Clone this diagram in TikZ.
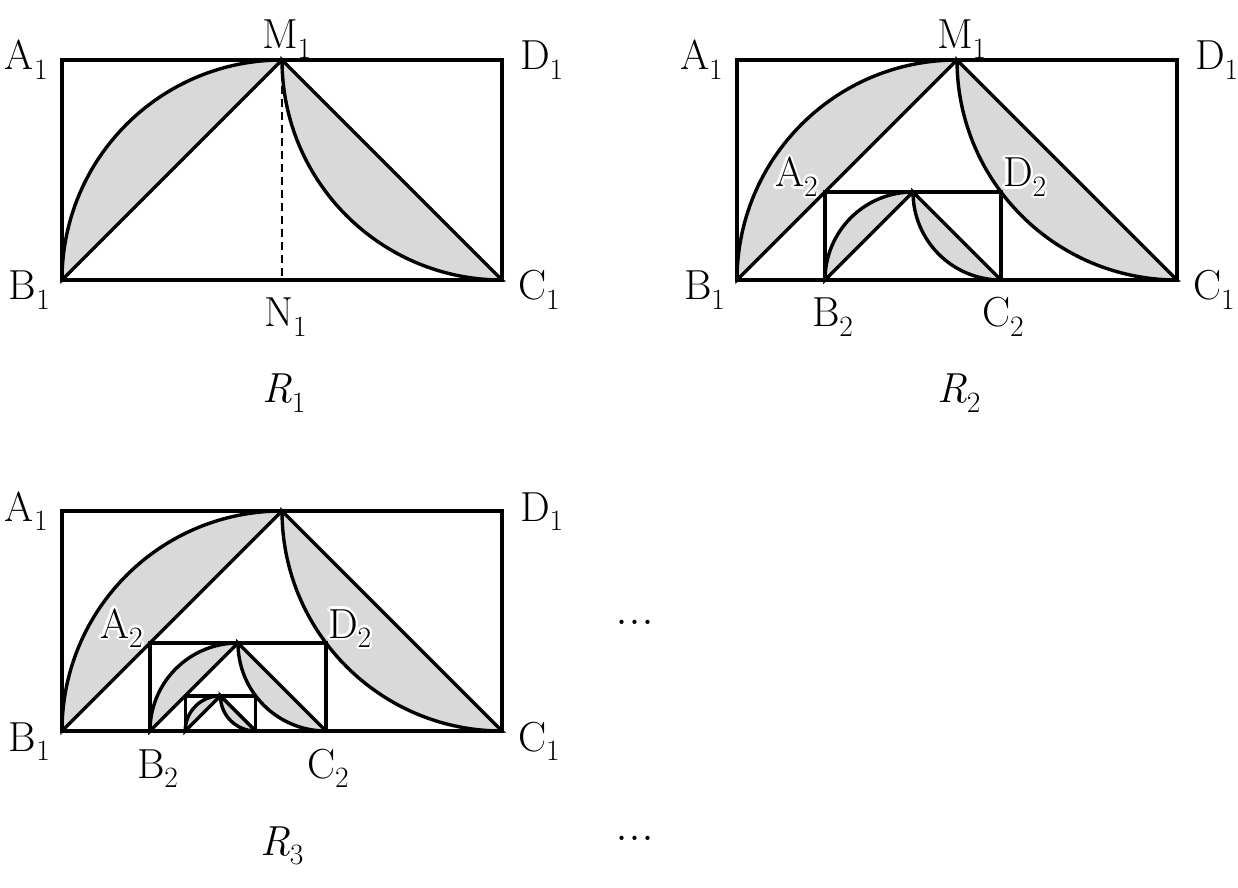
\documentclass[tikz,border=0pt]{standalone}
\usetikzlibrary{calc}
\newcommand\sub[1]{\raisebox{-0.22em}{\fontsize{29.5}{30}\selectfont #1}}
\newcommand\lbl[2]{#1\sub{#2}}
\newcommand\mydots{{\fontsize{52}{54}\selectfont .\kern0em.\kern0em.}}
\tikzset{
  edge/.style={line width=3.4pt, line join=miter},
  lens/.style={edge, fill=gray!30},
  midline/.style={line width=2.2pt, dash pattern=on 8pt off 5pt},
  lab/.style={inner sep=0pt, outer sep=0pt, font=\fontsize{42}{50}\selectfont},
}
% one level: bottom-left x, y, height a, prefix
\newcommand\rlevel[4]{%
  \coordinate (#4B) at (#1,#2);
  \coordinate (#4N) at ({#1+#3},#2);
  \coordinate (#4C) at ({#1+2*#3},#2);
  \coordinate (#4A) at (#1,{#2+#3});
  \coordinate (#4M) at ({#1+#3},{#2+#3});
  \coordinate (#4D) at ({#1+2*#3},{#2+#3});
  \filldraw[lens] (#4B) -- (#4M) arc[start angle=90, end angle=180, radius=#3pt] -- cycle;
  \filldraw[lens] (#4M) -- (#4C) arc[start angle=270, end angle=180, radius=#3pt] -- cycle;
  \draw[edge] (#4A) rectangle (#4C);
}
% label with white halo: name, position, anchor, text
\newcommand\halolab[4]{%
  \foreach \ang [count=\i] in {0,22.5,...,337.5}
    {\node[lab, white, anchor=#3] (#1h\i) at ($(#2)+(\ang:2.4pt)$) {#4};}
  \node[lab, anchor=#3] (#1) at (#2) {#4};
}
\begin{document}
\begin{tikzpicture}[x=1pt, y=1pt]
\path[use as bounding box, fill=white] (0,0) rectangle (1238,887);

% ---------- R1 ----------
\rlevel{62}{607}{220}{P}
\draw[midline] (PM) -- (PN);
\node[lab, anchor=base west] (pA1) at (5,817) {\lbl{A}{1}};
\node[lab, anchor=base west] (pM1) at (262,838) {\lbl{M}{1}};
\node[lab, anchor=base west] (pD1) at (520,817) {\lbl{D}{1}};
\node[lab, anchor=base west] (pB1) at (9,587) {\lbl{B}{1}};
\node[lab, anchor=base west] (pC1) at (518,587) {\lbl{C}{1}};
\node[lab, anchor=base west] (pN1) at (264,560) {\lbl{N}{1}};
\node[lab, anchor=base west] (pR1) at (262,484) {\lbl{\textit{R}}{1}};

% ---------- R2 ----------
\rlevel{737}{607}{220}{Q}
\rlevel{825}{607}{88}{QQ}
\node[lab, anchor=base west] (qA1) at (680,817) {\lbl{A}{1}};
\node[lab, anchor=base west] (qM1) at (937,838) {\lbl{M}{1}};
\node[lab, anchor=base west] (qD1) at (1195,817) {\lbl{D}{1}};
\node[lab, anchor=base west] (qB1) at (684,587) {\lbl{B}{1}};
\node[lab, anchor=base west] (qC1) at (1193,587) {\lbl{C}{1}};
\halolab{qA2}{775,700}{base west}{\lbl{A}{2}}
\halolab{qD2}{1003,700}{base west}{\lbl{D}{2}}
\node[lab, anchor=base west] (qB2) at (812,560) {\lbl{B}{2}};
\node[lab, anchor=base west] (qC2) at (982,560) {\lbl{C}{2}};
\node[lab, anchor=base west] (qR2) at (937,484) {\lbl{\textit{R}}{2}};

% ---------- R3 ----------
\rlevel{62}{156}{220}{S}
\rlevel{150}{156}{88}{SS}
\rlevel{185.2}{156}{35.2}{SSS}
\node[lab, anchor=base west] (sA1) at (5,366) {\lbl{A}{1}};
\node[lab, anchor=base west] (sD1) at (520,366) {\lbl{D}{1}};
\node[lab, anchor=base west] (sB1) at (9,136) {\lbl{B}{1}};
\node[lab, anchor=base west] (sC1) at (518,136) {\lbl{C}{1}};
\halolab{sA2}{100,249}{base west}{\lbl{A}{2}}
\halolab{sD2}{328,249}{base west}{\lbl{D}{2}}
\node[lab, anchor=base west] (sB2) at (137,109) {\lbl{B}{2}};
\node[lab, anchor=base west] (sC2) at (307,109) {\lbl{C}{2}};
\node[lab, anchor=base west] (sR3) at (260,32) {\lbl{\textit{R}}{3}};

% ---------- dots ----------
\node[lab] (dots1) at (635,265) {\mydots};
\node[lab] (dots2) at (635,49) {\mydots};
\end{tikzpicture}
\end{document}
